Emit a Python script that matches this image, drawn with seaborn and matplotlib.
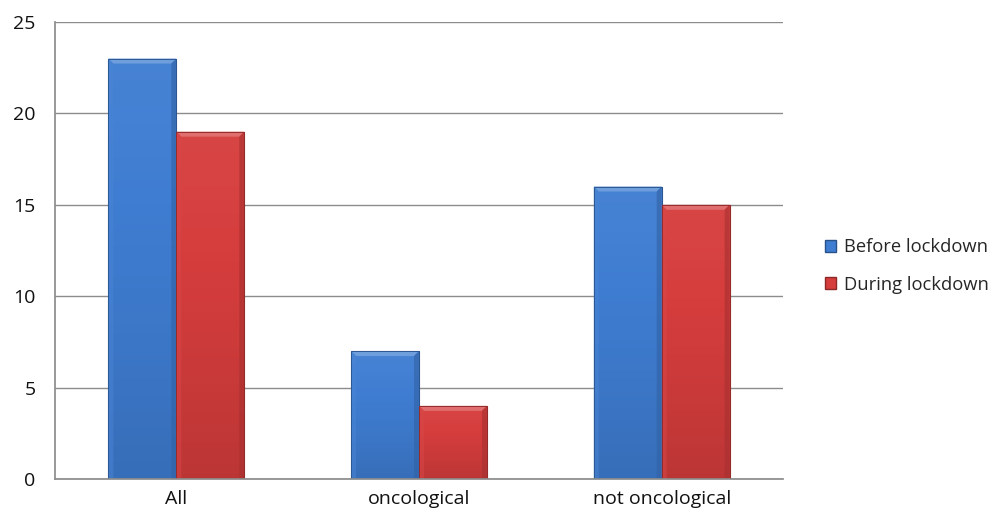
import numpy as np
import pandas as pd
import matplotlib
matplotlib.use("Agg")
import matplotlib.pyplot as plt
import seaborn as sns
from matplotlib.patches import Polygon
from matplotlib.colors import to_rgb

categories = ["All", "oncological", "not oncological"]
series = ["Before lockdown", "During lockdown"]
before = [23, 7, 16]
during = [19, 4, 15]
y_ticks = [0, 5, 10, 15, 20, 25]

df = pd.DataFrame({
    "category": categories * 2,
    "period": [series[0]] * 3 + [series[1]] * 3,
    "count": before + during,
})

sns.set_theme(style="white")
plt.rcParams["font.family"] = ["Open Sans", "DejaVu Sans"]

colors = {"Before lockdown": "#3f7dd2", "During lockdown": "#d63d3d"}

fig = plt.figure(figsize=(9.91, 5.18), dpi=100)
ax = fig.add_axes([55 / 991, 39 / 518, (783 - 55) / 991, (479 - 22) / 518])

sns.barplot(data=df, x="category", y="count", hue="period", order=categories,
            hue_order=series, palette=colors, width=0.56, gap=0,
            saturation=1, ax=ax, legend=False)

ax.set_ylim(0, 25)
ax.set_xlim(-0.5, 2.5)
ax.set_yticks(y_ticks)
ax.yaxis.grid(True, color="#8c8c8c", linewidth=1.0)
ax.set_axisbelow(True)
for s in ["top", "right"]:
    ax.spines[s].set_visible(False)
ax.spines["left"].set_color("#8c8c8c")
ax.spines["bottom"].set_color("#8c8c8c")
ax.set_xlabel("")
ax.set_ylabel("")
ax.tick_params(axis="y", labelsize=14, colors="#111111", pad=14, length=0)
ax.tick_params(axis="x", labelsize=14, colors="#111111", pad=8, length=0)

# bevelled, shaded look for each bar
fig.canvas.draw()
px_x = (ax.transData.transform((1, 0))[0] - ax.transData.transform((0, 0))[0])
px_y = (ax.transData.transform((0, 1))[1] - ax.transData.transform((0, 0))[1])
bx = 5 / px_x
by = 5 / px_y

def shade(c, f):
    r = np.array(to_rgb(c))
    if f > 0:
        return tuple(r + (1 - r) * f)
    return tuple(r * (1 + f))

for bar in list(ax.patches):
    x0, w, h = bar.get_x(), bar.get_width(), bar.get_height()
    if h <= 0:
        continue
    base = bar.get_facecolor()[:3]
    bar.set_edgecolor(shade(base, -0.35))
    bar.set_linewidth(0.8)
    g = np.linspace(0, 1, 256)
    cols = np.array([shade(base, 0.04 - 0.16 * v ** 1.3) for v in g])
    img = ax.imshow(cols.reshape(-1, 1, 3), extent=[x0, x0 + w, 0, h], origin="upper",
                    aspect="auto", interpolation="bilinear",
                    zorder=bar.get_zorder() + 0.1)
    img.set_clip_path(bar)
    top = Polygon([(x0, h), (x0 + w, h), (x0 + w - bx, h - by), (x0 + bx, h - by)],
                  closed=True, facecolor=shade(base, 0.25), edgecolor="none",
                  zorder=bar.get_zorder() + 0.2)
    left = Polygon([(x0, 0), (x0, h), (x0 + bx, h - by), (x0 + bx, 0)],
                   closed=True, facecolor=shade(base, 0.05), edgecolor="none",
                   alpha=0.5, zorder=bar.get_zorder() + 0.2)
    right = Polygon([(x0 + w, 0), (x0 + w, h), (x0 + w - bx, h - by), (x0 + w - bx, 0)],
                    closed=True, facecolor=shade(base, -0.22), edgecolor="none",
                    alpha=0.6, zorder=bar.get_zorder() + 0.2)
    for p in (top, left, right):
        ax.add_patch(p)
    frame = plt.Rectangle((x0, 0), w, h, fill=False, edgecolor=shade(base, -0.3),
                          linewidth=0.7, zorder=bar.get_zorder() + 0.3)
    ax.add_patch(frame)
ax.set_xlim(-0.5, 2.5)
ax.set_ylim(0, 25)

handles = [plt.Rectangle((0, 0), 1, 1, facecolor=colors[s], edgecolor=shade(colors[s], -0.35))
           for s in series]
fig.legend(handles, series, loc="center left", bbox_to_anchor=(818 / 991, 1 - 266 / 518),
           frameon=False, fontsize=13.2, handlelength=0.6, handleheight=0.6,
           handletextpad=0.4, labelspacing=1.05, borderaxespad=0)

fig.savefig("out.png", dpi=100, facecolor="white")
